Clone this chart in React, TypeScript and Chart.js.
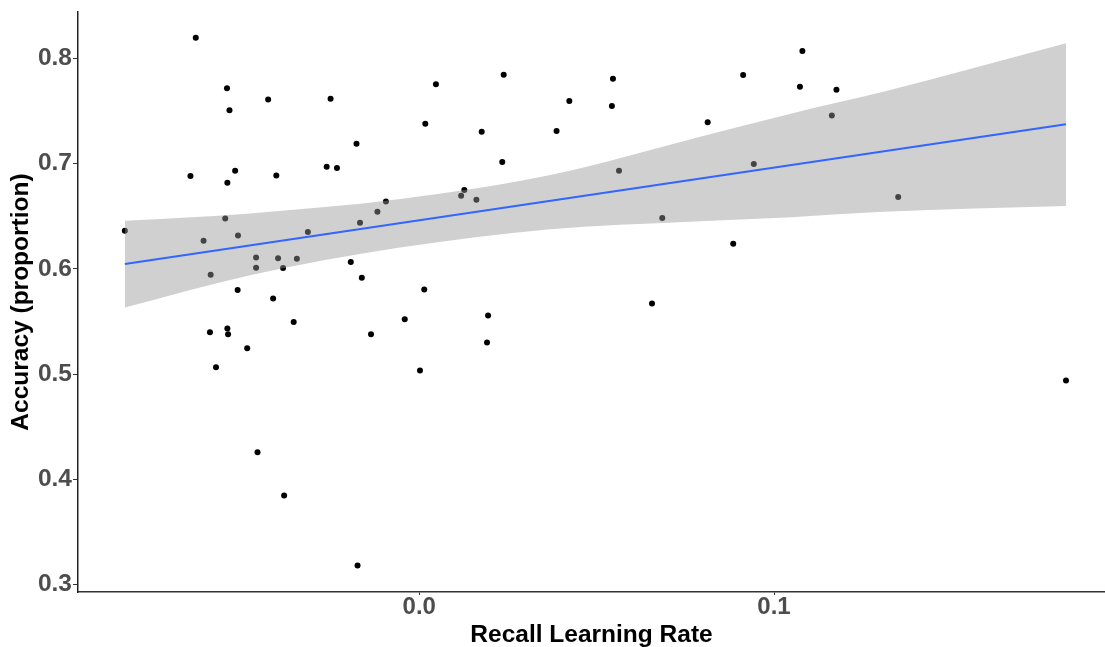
import React, { useEffect, useRef } from "react";
import { Chart, registerables } from "chart.js";

Chart.register(...registerables);

// Observed participants: recall learning rate (x) and accuracy (y)
const recallRate = [
  -0.083, -0.0645, -0.063, -0.0608, -0.059, -0.0588, -0.0573, -0.0547, -0.0542, -0.0541,
  -0.0541, -0.0539, -0.0535, -0.0519, -0.0512, -0.0511, -0.0485, -0.046, -0.046, -0.0456,
  -0.0426, -0.0412, -0.0403, -0.0398, -0.0384, -0.0381, -0.0354, -0.0345, -0.0314, -0.0261,
  -0.025, -0.0232, -0.0193, -0.0177, -0.0174, -0.0167, -0.0162, -0.0136, -0.0118, -0.0094,
  -0.0041, 0.0002, 0.0014, 0.0017, 0.0047, 0.0118, 0.0127, 0.0161, 0.0176, 0.0191,
  0.0194, 0.0234, 0.0238, 0.0387, 0.0423, 0.0543, 0.0546, 0.0563, 0.0656, 0.0685,
  0.0813, 0.0885, 0.0913, 0.0943, 0.1073, 0.108, 0.1163, 0.1176, 0.135, 0.1823,
];
const accuracy = [
  0.6361, 0.6881, 0.8196, 0.6266, 0.5398, 0.5943, 0.5066, 0.6479, 0.7715, 0.6817,
  0.5433, 0.5379, 0.7506, 0.6932, 0.58, 0.6317, 0.5246, 0.6108, 0.601, 0.4258,
  0.761, 0.5719, 0.6888, 0.6101, 0.6007, 0.3846, 0.5496, 0.6095, 0.6349, 0.697,
  0.7616, 0.6957, 0.6064, 0.7188, 0.3181, 0.6437, 0.5915, 0.5379, 0.6542, 0.6641,
  0.5522, 0.5034, 0.5804, 0.7378, 0.7753, 0.6694, 0.6748, 0.6656, 0.7302, 0.53,
  0.5557, 0.7014, 0.7844, 0.7309, 0.7594, 0.7547, 0.7806, 0.6932, 0.5671, 0.6482,
  0.7394, 0.6238, 0.7841, 0.6995, 0.773, 0.8069, 0.7458, 0.7702, 0.6682, 0.4939,
];

// Fitted regression line (endpoints)
const fitX = [-0.083, 0.1823];
const fitY = [0.6046, 0.7374];

// Confidence band edges
const bandX = [-0.083, -0.0477, -0.0054, 0.0369, 0.0792, 0.105, 0.1308, 0.1823];
const bandUpper = [0.6456, 0.6527, 0.6663, 0.6891, 0.7255, 0.7477, 0.7682, 0.8143];
const bandLower = [0.5633, 0.594, 0.6202, 0.6377, 0.6452, 0.6491, 0.6542, 0.6596];

const xTicks = [0.0, 0.1];
const yTicks = [0.3, 0.4, 0.5, 0.6, 0.7, 0.8];
const xTitle = "Recall Learning Rate";
const yTitle = "Accuracy (proportion)";

const FONT = "'Liberation Sans', Arial, Helvetica, sans-serif";

export default function App() {
  const ref = useRef<HTMLCanvasElement>(null);

  useEffect(() => {
    if (!ref.current) return;
    const points = recallRate.map((x, i) => ({ x, y: accuracy[i] }));
    const fit = fitX.map((x, i) => ({ x, y: fitY[i] }));
    const upper = bandX.map((x, i) => ({ x, y: bandUpper[i] }));
    const lower = bandX.map((x, i) => ({ x, y: bandLower[i] }));

    const chart = new Chart(ref.current, {
      type: "scatter",
      data: {
        datasets: [
          {
            type: "line",
            data: fit,
            borderColor: "#3366FF",
            borderWidth: 2.2,
            pointRadius: 0,
            fill: false,
          } as any,
          {
            type: "line",
            data: upper,
            borderWidth: 0,
            borderColor: "rgba(0,0,0,0)",
            pointRadius: 0,
            fill: false,
            cubicInterpolationMode: "monotone",
          } as any,
          {
            type: "line",
            data: lower,
            borderWidth: 0,
            borderColor: "rgba(0,0,0,0)",
            pointRadius: 0,
            fill: 1,
            backgroundColor: "rgba(150,150,150,0.45)",
            cubicInterpolationMode: "monotone",
          } as any,
          {
            type: "scatter",
            data: points,
            pointRadius: 3,
            pointBackgroundColor: "#000",
            pointBorderWidth: 0,
            backgroundColor: "#000",
            borderWidth: 0,
          } as any,
        ],
      },
      options: {
        responsive: false,
        animation: false,
        devicePixelRatio: 1,
        layout: { padding: { top: 12, right: 0, bottom: 0, left: 0 } },
        plugins: {
          legend: { display: false },
          tooltip: { enabled: false },
        },
        scales: {
          x: {
            type: "linear",
            min: -0.0962,
            max: 0.1933,
            afterBuildTicks: (s: any) => {
              s.ticks = xTicks.map((v) => ({ value: v }));
            },
            afterFit: (s: any) => {
              s.height = 55;
            },
            ticks: {
              autoSkip: false,
              maxRotation: 0,
              padding: 0,
              color: "#4D4D4D",
              font: { family: FONT, size: 24, weight: "bold", lineHeight: 1 },
              callback: (v: any) => Number(v).toFixed(1),
            },
            grid: {
              display: true,
              drawOnChartArea: false,
              drawTicks: true,
              tickLength: 3,
              color: "#333",
              lineWidth: 1,
            },
            border: { display: true, color: "#333", width: 1.5 },
            title: {
              display: true,
              text: xTitle,
              color: "#000",
              font: { family: FONT, size: 24.5, weight: "bold", lineHeight: 1 },
              padding: { top: 0, bottom: 0 },
            },
          },
          y: {
            type: "linear",
            min: 0.293,
            max: 0.844,
            afterBuildTicks: (s: any) => {
              s.ticks = yTicks.map((v) => ({ value: v }));
            },
            afterFit: (s: any) => {
              s.width = 78;
            },
            ticks: {
              autoSkip: false,
              padding: 1,
              color: "#4D4D4D",
              font: { family: FONT, size: 24.5, weight: "bold", lineHeight: 0.9 },
              callback: (v: any) => Number(v).toFixed(1),
            },
            grid: {
              display: true,
              drawOnChartArea: false,
              drawTicks: true,
              tickLength: 5,
              color: "#333",
              lineWidth: 1,
            },
            border: { display: true, color: "#222", width: 1.5 },
            title: {
              display: true,
              text: yTitle,
              color: "#000",
              font: { family: FONT, size: 24.5, weight: "bold", lineHeight: 1 },
              padding: { top: 9, bottom: 0 },
            },
          },
        },
      } as any,
    });
    return () => chart.destroy();
  }, []);

  return (
    <div
      style={{
        position: "fixed",
        left: 0,
        top: 0,
        width: 1105,
        height: 647,
        background: "#fff",
        overflow: "hidden",
      }}
    >
      <canvas ref={ref} width={1109} height={647} style={{ display: "block" }} />
    </div>
  );
}
